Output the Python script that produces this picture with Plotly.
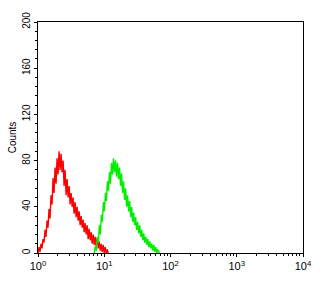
import numpy as np
import plotly.graph_objects as go

# Histogram counts (one value per channel bin)
red_counts = [0, 5, 1, 8, 4, 12, 9, 20, 14, 28, 22, 38, 30, 50, 42, 65, 52, 74, 60, 82,
              68, 88, 72, 86, 70, 80, 58, 72, 50, 64, 48, 58, 42, 52, 40, 48, 34, 44, 31, 40,
              28, 36, 24, 32, 22, 29, 18, 26, 16, 24, 12, 21, 11, 18, 8, 16, 7, 14, 5, 13,
              4, 10, 2, 8, 1, 7, 0, 5, 0, 3, 0]
green_counts = [0, 6, 2, 14, 9, 24, 16, 33, 27, 44, 36, 52, 45, 62, 54, 70, 60, 78, 68, 82,
                70, 80, 66, 78, 64, 74, 58, 69, 52, 62, 46, 56, 40, 50, 36, 45, 31, 40, 27, 35,
                24, 31, 20, 27, 17, 24, 14, 20, 11, 17, 9, 14, 7, 12, 5, 10, 4, 8, 2, 7,
                1, 5, 0, 3, 1, 0]
# log10 fluorescence range covered by each series
red_log_start, red_log_end = 0.0, 1.06
green_log_start, green_log_end = 0.85, 1.84

y_tick_vals = [0, 40, 80, 120, 160, 200]
x_tick_vals = [1, 10, 100, 1000, 10000]
x_tick_text = ["10<sup>0</sup>", "10<sup>1</sup>", "10<sup>2</sup>", "10<sup>3</sup>", "10<sup>4</sup>"]

red_x = 10 ** np.linspace(red_log_start, red_log_end, len(red_counts))
green_x = 10 ** np.linspace(green_log_start, green_log_end, len(green_counts))

fig = go.Figure()
fig.add_trace(go.Scatter(x=red_x, y=red_counts, mode="lines",
                         line=dict(color="#ff0000", width=1.4), showlegend=False))
fig.add_trace(go.Scatter(x=green_x, y=green_counts, mode="lines",
                         line=dict(color="#00ee00", width=1.4), showlegend=False))

font = dict(family="Liberation Sans, Arial, sans-serif", size=10, color="#000")
fig.update_layout(
    width=324, height=285,
    margin=dict(l=38, r=18, t=14, b=32),
    paper_bgcolor="white", plot_bgcolor="white",
    font=font,
)
fig.update_xaxes(type="log", range=[0, 4], showgrid=False, zeroline=False,
                 showline=True, linecolor="black", linewidth=1, mirror=True,
                 ticks="outside", ticklen=3, tickcolor="black",
                 tickvals=x_tick_vals, ticktext=x_tick_text,
                 minor=dict(ticks="outside", ticklen=2, tickcolor="black",
                            tickvals=[a * 10 ** d for d in range(4) for a in range(2, 10)]),
                 tickfont=dict(size=11))
fig.update_yaxes(range=[0, 200], showgrid=False, zeroline=False,
                 showline=True, linecolor="black", linewidth=1, mirror=True,
                 ticks="outside", ticklen=3, tickcolor="black",
                 tickvals=y_tick_vals, tickangle=-90,
                 minor=dict(ticks="outside", ticklen=2, tickcolor="black", dtick=8),
                 title=dict(text="Counts", font=dict(size=10), standoff=2),
                 tickfont=dict(size=10))

fig.write_html("out.html")
